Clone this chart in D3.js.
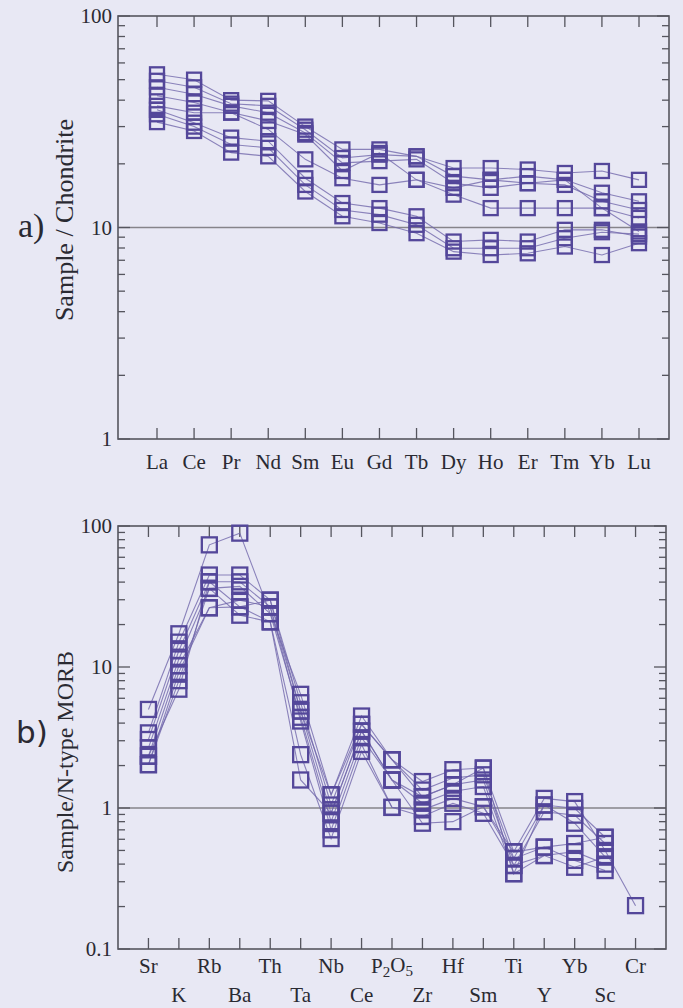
<!DOCTYPE html>
<html>
<head>
<meta charset="utf-8">
<script src="https://cdn.jsdelivr.net/npm/d3@7"></script>
<style>
  html, body { margin: 0; padding: 0; background: #e8e8f4; }
  svg { display: block; }
  .serif { font-family: "Liberation Serif", "Times New Roman", Times, "DejaVu Serif", serif; }
  .sans { font-family: "DejaVu Sans", "Liberation Sans", sans-serif; }
</style>
</head>
<body>
<svg id="fig" width="683" height="1008"></svg>
<script>
// ---- a) chondrite-normalised rare earth elements ----
const reeElements = ["La","Ce","Pr","Nd","Sm","Eu","Gd","Tb","Dy","Ho","Er","Tm","Yb","Lu"];
const reeSampleA = [53, 50, 40, 39.7, 30, 23.4, 23.4, 21.7, 19.1, 19.1, 18.8, 18.1, 18.5, 16.8];
const reeSampleB = [49.4, 46, 38.5, 37.6, 29, 21.3, 22.1, 21.7, 17.5, 16.8, 17.5, 16.8, 14.6, 13.3];
const reeSampleC = [46, 42.7, 37.6, 34.9, 28, 20.2, 20.6, 21.0, 16.2, 15.4, 16.2, 15.9, 13.3, 12.1];
const reeSampleD = [42, 39, 35, 31.9, 27.5, 18.5, 22.5, 16.8, 15.4, 16.8, 16.2, 16.8, 12.35, 11.1];
const reeSampleE = [37.6, 34.9, 34.9, 29.1, 21, 17.1, 15.9, 16.8, 14.3, 12.35, 12.35, 12.35, 12.35, 9.57];
const reeSampleF = [36, 31.3, 26.6, 25.6, 17.1, 13.05, 12.35, 11.3, 8.58, 8.74, 8.58, 9.75, 9.75, 9.06];
const reeSampleG = [34.3, 30, 24.7, 23.8, 15.9, 12.1, 11.5, 10.3, 7.98, 7.98, 7.98, 8.9, 9.5, 9.3];
const reeSampleH = [31.5, 28.6, 22.6, 21.7, 14.8, 11.3, 10.5, 9.4, 7.69, 7.41, 7.55, 8.13, 7.41, 8.43];
const reeSamples = [reeSampleA, reeSampleB, reeSampleC, reeSampleD, reeSampleE, reeSampleF, reeSampleG, reeSampleH];
const reeTickValues = [1, 10, 100];

// ---- b) N-MORB-normalised trace elements ----
const traceElements = ["Sr","K","Rb","Ba","Th","Ta","Nb","Ce","P2O5","Zr","Hf","Sm","Ti","Y","Yb","Sc","Cr"];
const traceSample1 = [5.0, 17.2, 73.5, 89, 23.9, 6.4, 1.24, 4.49, 2.2, 1.54, 1.87, 1.92, 0.49, 1.17, 1.11, 0.5, 0.203];
const traceSample2 = [3.41, 15.0, 44.9, 44.9, 29.8, 5.58, 1.05, 3.92, 2.2, 1.34, 1.63, 1.72, 0.44, 1.05, 0.995, 0.62, null];
const traceSample3 = [3.06, 13.1, 40.2, 40.2, 26.7, 4.87, 0.92, 3.51, 1.58, 1.2, 1.46, 1.58, 0.39, 0.94, 0.89, 0.56, null];
const traceSample4 = [2.67, 11.4, 36.1, 37.3, 23.9, 4.4, 0.8, 3.15, 1.58, 1.08, 1.31, 1.42, 0.342, 1.05, 0.78, 0.45, null];
const traceSample5 = [2.33, 10.2, 26.3, 29.8, 26.7, 4.14, 0.7, 2.82, 1.01, 0.97, 1.17, 1.02, 0.487, 0.528, 0.56, 0.62, null];
const traceSample6 = [2.03, 9.17, 26.3, 26.7, 20.9, 2.39, 0.607, 2.52, 1.01, 0.87, 1.08, 0.917, 0.392, 0.46, 0.49, 0.40, null];
const traceSample7 = [2.03, 8.0, 36.1, 23.3, 20.9, 1.58, 0.92, 3.51, 1.58, 0.78, 0.80, 1.02, 0.437, 0.528, 0.425, 0.36, null];
const traceSample8 = [2.33, 6.96, 40.2, 26.7, 29.8, 4.87, 1.24, 3.92, 2.2, 1.2, 1.46, 1.92, 0.342, 0.46, 0.38, 0.45, null];
const traceSamples = [traceSample1, traceSample2, traceSample3, traceSample4, traceSample5, traceSample6, traceSample7, traceSample8];
const traceTickValues = [0.1, 1, 10, 100];

const markColor = "#54479a";
const lineColor = "#7268ab";
const frameColor = "#55555e";
const textColor = "#2a2a32";

const svg = d3.select("#fig");

function drawPanel(cfg) {
  const g = svg.append("g");
  const { left, right, top, bottom } = cfg.frame;

  const x = d3.scalePoint().domain(cfg.categories).range(cfg.xRange).padding(cfg.xPadding);
  const y = d3.scaleLog().domain(cfg.yDomain).range([bottom, top]);

  // reference line at the normalising value
  g.append("line")
    .attr("x1", left).attr("x2", right)
    .attr("y1", y(cfg.refValue)).attr("y2", y(cfg.refValue))
    .attr("stroke", "#86848a").attr("stroke-width", 1.6);

  // log ticks on left and right edges, pointing inwards
  const yTicks = y.ticks();
  const isMajor = v => Math.abs(Math.log10(v) - Math.round(Math.log10(v))) < 1e-6;
  g.selectAll(".ytl").data(yTicks).join("line")
    .attr("x1", left).attr("x2", d => left + (isMajor(d) ? 12 : 7))
    .attr("y1", d => y(d)).attr("y2", d => y(d))
    .attr("stroke", frameColor).attr("stroke-width", 1.3);
  g.selectAll(".ytr").data(yTicks).join("line")
    .attr("x1", right).attr("x2", d => right - (isMajor(d) ? 12 : 7))
    .attr("y1", d => y(d)).attr("y2", d => y(d))
    .attr("stroke", frameColor).attr("stroke-width", 1.3);

  // category ticks along top and bottom edges
  g.selectAll(".xtt").data(cfg.categories).join("line")
    .attr("x1", d => x(d)).attr("x2", d => x(d))
    .attr("y1", top).attr("y2", top + 11)
    .attr("stroke", frameColor).attr("stroke-width", 1.3);
  g.selectAll(".xtb").data(cfg.categories).join("line")
    .attr("x1", d => x(d)).attr("x2", d => x(d))
    .attr("y1", bottom).attr("y2", bottom - 11)
    .attr("stroke", frameColor).attr("stroke-width", 1.3);

  // frame
  g.append("rect")
    .attr("x", left).attr("y", top)
    .attr("width", right - left).attr("height", bottom - top)
    .attr("fill", "none").attr("stroke", frameColor).attr("stroke-width", 1.6);

  // y tick labels
  g.selectAll(".ylab").data(cfg.tickValues).join("text")
    .attr("class", "serif")
    .attr("x", left - 6).attr("y", d => y(d))
    .attr("dy", "0.35em")
    .attr("text-anchor", "end")
    .attr("font-size", 21)
    .attr("fill", textColor)
    .text(d => d3.format("~g")(d));

  // sample profiles
  const line = d3.line()
    .defined(d => d.v != null)
    .x(d => x(d.k)).y(d => y(d.v));
  const series = cfg.samples.map(s => s.map((v, i) => ({ k: cfg.categories[i], v })));
  g.append("g").selectAll("path").data(series).join("path")
    .attr("d", line)
    .attr("fill", "none")
    .attr("stroke", lineColor).attr("stroke-width", 1.1).attr("stroke-opacity", 0.8);

  const pts = series.flat().filter(d => d.v != null);
  const s = cfg.markSize;
  g.append("g").selectAll("rect").data(pts).join("rect")
    .attr("x", d => x(d.k) - s / 2).attr("y", d => y(d.v) - s / 2)
    .attr("width", s).attr("height", s)
    .attr("fill", "none")
    .attr("stroke", markColor).attr("stroke-width", 2.3);

  return { g, x, y };
}

// ---- panel a ----
const pa = drawPanel({
  frame: { left: 118, right: 669, top: 16, bottom: 439 },
  categories: reeElements,
  xRange: [157, 639], xPadding: 0,
  yDomain: [1, 100], refValue: 10,
  tickValues: reeTickValues,
  samples: reeSamples,
  markSize: 14
});
pa.g.selectAll(".xlab").data(reeElements).join("text")
  .attr("class", "serif")
  .attr("x", d => pa.x(d)).attr("y", 462)
  .attr("dy", "0.35em").attr("text-anchor", "middle")
  .attr("font-size", 21).attr("fill", textColor)
  .text(d => d);
svg.append("text")
  .attr("class", "serif")
  .attr("transform", "translate(64,220) rotate(-90)")
  .attr("text-anchor", "middle").attr("dy", "0.35em")
  .attr("font-size", 26).attr("fill", textColor)
  .text("Sample / Chondrite");
svg.append("text")
  .attr("class", "serif")
  .attr("x", 18).attr("y", 225).attr("dy", "0.35em")
  .attr("font-size", 34).attr("fill", textColor)
  .text("a)");

// ---- panel b ----
const pb = drawPanel({
  frame: { left: 118, right: 666, top: 526, bottom: 949 },
  categories: traceElements,
  xRange: [118, 666], xPadding: 1,
  yDomain: [0.1, 100], refValue: 1,
  tickValues: traceTickValues,
  samples: traceSamples,
  markSize: 15
});
const xl = pb.g.selectAll(".xlab").data(traceElements).join("text")
  .attr("class", "serif")
  .attr("x", d => pb.x(d))
  .attr("y", (d, i) => i % 2 === 0 ? 966 : 995)
  .attr("dy", "0.35em").attr("text-anchor", "middle")
  .attr("font-size", 21).attr("fill", textColor);
xl.each(function(d) {
  const t = d3.select(this);
  if (d === "P2O5") {
    t.append("tspan").text("P");
    t.append("tspan").attr("font-size", 15).attr("dy", "0.25em").text("2");
    t.append("tspan").attr("dy", "-0.25em").text("O");
    t.append("tspan").attr("font-size", 15).attr("dy", "0.25em").text("5");
  } else {
    t.text(d);
  }
});
svg.append("text")
  .attr("class", "serif")
  .attr("transform", "translate(65,762) rotate(-90)")
  .attr("text-anchor", "middle").attr("dy", "0.35em")
  .attr("font-size", 24).attr("fill", textColor)
  .text("Sample/N-type MORB");
svg.append("text")
  .attr("class", "sans")
  .attr("x", 16).attr("y", 732).attr("dy", "0.35em")
  .attr("font-size", 31).attr("fill", textColor)
  .text("b)");
</script>
</body>
</html>
